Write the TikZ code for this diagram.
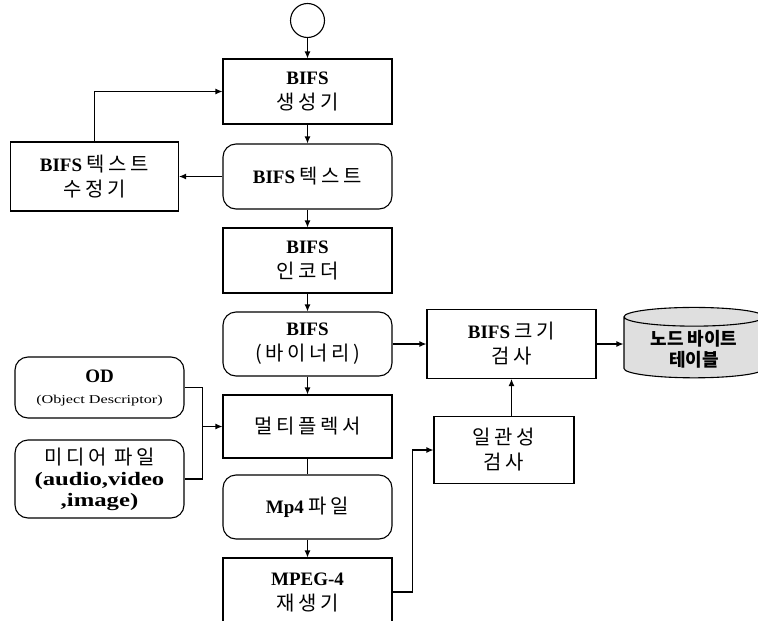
\documentclass[tikz,border=0pt]{standalone}
\usepackage{fontspec}
\setmainfont{Liberation Serif}
\newfontfamily\kr{Noto Sans CJK KR}[Scale=1.05, LetterSpace=18]
\newfontfamily\krtight{Noto Sans CJK KR}
\usetikzlibrary{shapes.geometric,arrows.meta}

\begin{document}
\begin{tikzpicture}[node distance=84pt, >={Latex[length=7pt,width=6pt]}, line width=1.1pt,
  box/.style={draw, minimum width=169pt, minimum height=65pt, align=center, inner sep=2pt, font=\fontsize{19}{25}\selectfont},
  data/.style={box, rounded corners=13pt}]
  \useasboundingbox (0,0) rectangle (758pt,-621pt);
  \clip (0,0) rectangle (758pt,-621pt);

  \node[box] (generator) at (307.5pt,-91.5pt) {\textbf{BIFS}\\{\kr 생성기}};
  \node[draw, circle, minimum size=34pt, node distance=71pt, above of=generator] (start) {};
  \node[data, node distance=85pt, below of=generator] (text) {\textbf{BIFS} {\kr 텍스트}};
  \node[box, below of=text] (encoder) {\textbf{BIFS}\\{\kr 인코더}};
  \node[data, node distance=83.5pt, below of=encoder, minimum height=64pt] (binary) {\textbf{BIFS}\\{\kr (바이너리)}};
  \node[box, node distance=82.5pt, below of=binary, minimum height=63pt] (mux) {{\kr 멀티플렉서}};
  \node[data, node distance=80.5pt, below of=mux, minimum height=64pt] (mp4) {\textbf{Mp4} {\kr 파일}};
  \node[box, node distance=85pt, below of=mp4, minimum height=68pt] (player) {\textbf{MPEG-4}\\{\kr 재생기}};

  \node[box, node distance=213pt, left of=text, minimum width=168pt, minimum height=69pt] (editor) {\textbf{BIFS} {\kr 텍스트}\\{\kr 수정기}};
  \node[data, minimum height=61pt] (od) at (99.5pt,-387.5pt) {\textbf{OD}\\[-4pt]{\fontsize{12}{14}\selectfont\addfontfeatures{FakeStretch=1.35}(Object Descriptor)}};
  \node[data, node distance=91.5pt, below of=od, minimum height=78pt, font=\fontsize{19}{21}\selectfont] (media) {{\kr 미디어 파일}\\\textbf{\addfontfeatures{FakeStretch=1.3}(audio,video}\\\textbf{\addfontfeatures{FakeStretch=1.3},image)}};

  \node[box, node distance=204pt, right of=binary, minimum height=69pt] (sizecheck) {\textbf{BIFS} {\kr 크기}\\{\kr 검사}};
  \node[box, node distance=106pt, below of=sizecheck, xshift=-7.5pt, minimum width=140pt, minimum height=67pt] (consistency) {{\kr 일관성}\\{\kr 검사}};
  \node[draw, cylinder, shape border rotate=90, aspect=0.2, fill=gray!25, minimum width=140pt, minimum height=63pt, align=center, node distance=182.5pt, right of=sizecheck, yshift=-5pt, font=\fontsize{18}{21}\selectfont\krtight\bfseries] (nodetable) {노드 바이트\\테이블};

  \coordinate (join) at ([xshift=-20pt]mux.west);

  \draw[->] (start) -- (generator);
  \draw[->] (generator) -- (text);
  \draw[->] (text) -- (editor);
  \draw[->] (editor.north) |- (generator.west);
  \draw[->] (text) -- (encoder);
  \draw[->] (encoder) -- (binary);
  \draw[->] (binary) -- (mux);
  \draw (mux) -- (mp4);
  \draw[->] (mp4) -- (player);
  \draw (od.east) -| (join) |- (media.east);
  \draw[->] (join) -- (mux.west);
  \draw[->] (binary) -- (sizecheck);
  \draw[->] (sizecheck.east) -- (sizecheck.east -| nodetable.west);
  \draw[->] (sizecheck.south |- consistency.north) -- (sizecheck.south);
  \draw[->] (player.east) -- ++(20pt,0) |- (consistency.west);
\end{tikzpicture}
\end{document}
